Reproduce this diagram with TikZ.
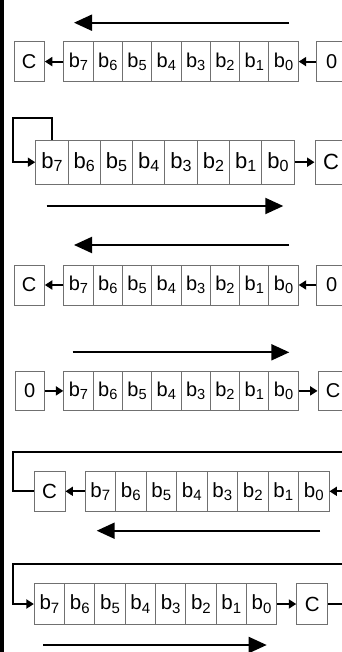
\documentclass[tikz,border=0pt]{standalone}
\usepackage{fontspec}
\setmainfont{Liberation Sans}
\usetikzlibrary{arrows.meta}
\definecolor{boxgray}{RGB}{112,112,112}
% bit label: b with a lowered, smaller index
\newcommand\bitlbl[1]{b\raisebox{-0.16em}{\scalebox{0.73}{#1}}}
\begin{document}
\begin{tikzpicture}[x=1pt,y=-1pt,
  cell/.style n args={2}{draw=boxgray, fill=white, line width=0.9pt,
    inner sep=0pt, minimum width=#1, minimum height=#2},
  small/.style={line width=1.9pt, -{Triangle[length=7.5pt,width=9pt]}},
  loopline/.style={line width=1.9pt, line join=miter, -{Triangle[length=7.5pt,width=9pt]}},
  big/.style={line width=2pt, -{Triangle[length=18pt,width=16pt]}},
  lbl/.style={font=\fontsize{#1}{#1}\selectfont}]
\clip (0,0) rectangle (342,652);
\fill[white] (0,0) rectangle (342,652);
\fill[black] (0,0) rectangle (3.5,652);

% ---- shift left, 0 fed in
\node[cell={30.3pt}{39.3pt}, lbl=20] (r1C) at (29.2,61.6) {C};
\foreach \i [evaluate=\i as \k using int(7-\i)] in {0,...,7}
  \node[cell={29.375pt}{39.3pt}, lbl=20] (r1b\k) at ({63.8+29.3*(\i+0.5)},61.6) {\bitlbl{\k}};
\node[cell={30pt}{39.3pt}, lbl=20] (r1Z) at (331.7,61.6) {0};
\draw[small] (r1b7.west) -- (r1C.east);
\draw[small] (r1Z.west) -- (r1b0.east);
\coordinate (r1s) at (289,22.7);
\coordinate (r1e) at (74,22.7);
\draw[big] (r1s) -- (r1e);

% ---- arithmetic shift right: b7 kept, b0 into carry
\foreach \i [evaluate=\i as \k using int(7-\i)] in {0,...,7}
  \node[cell={32.3pt}{44.3pt}, lbl=22] (r2b\k) at ({35.7+32.3*(\i+0.5)},162.2) {\bitlbl{\k}};
\node[cell={32.3pt}{44.3pt}, lbl=22] (r2C) at (331.15,162.2) {C};
\coordinate (r2T) at (13.3,118.3);
\draw[loopline] (r2b7.north) |- (r2T) |- (r2b7.west);
\draw[small] (r2b0.east) -- (r2C.west);
\coordinate (r2s) at (46.7,206);
\coordinate (r2e) at (283.3,206);
\draw[big] (r2s) -- (r2e);

% ---- shift left, 0 fed in
\node[cell={30.3pt}{40pt}, lbl=20] (r3C) at (29.2,285) {C};
\foreach \i [evaluate=\i as \k using int(7-\i)] in {0,...,7}
  \node[cell={29.375pt}{40pt}, lbl=20] (r3b\k) at ({63.8+29.3*(\i+0.5)},285) {\bitlbl{\k}};
\node[cell={30pt}{40pt}, lbl=20] (r3Z) at (331.7,285) {0};
\draw[small] (r3b7.west) -- (r3C.east);
\draw[small] (r3Z.west) -- (r3b0.east);
\coordinate (r3s) at (289,245);
\coordinate (r3e) at (74,245);
\draw[big] (r3s) -- (r3e);

% ---- logical shift right, 0 fed in
\node[cell={29.3pt}{39.7pt}, lbl=20] (r4Z) at (29.65,390.9) {0};
\foreach \i [evaluate=\i as \k using int(7-\i)] in {0,...,7}
  \node[cell={29.375pt}{39.7pt}, lbl=20] (r4b\k) at ({63.8+29.3*(\i+0.5)},390.9) {\bitlbl{\k}};
\node[cell={30pt}{39.7pt}, lbl=20] (r4C) at (333,390.9) {C};
\draw[small] (r4Z.east) -- (r4b7.west);
\draw[small] (r4b0.east) -- (r4C.west);
\coordinate (r4s) at (72.7,352.3);
\coordinate (r4e) at (289.3,352.3);
\draw[big] (r4s) -- (r4e);

% ---- rotate left through carry
\node[cell={30.7pt}{39.3pt}, lbl=20.5] (r5C) at (49.65,491.3) {C};
\foreach \i [evaluate=\i as \k using int(7-\i)] in {0,...,7}
  \node[cell={30.5pt}{39.3pt}, lbl=20.5] (r5b\k) at ({85+30.5*(\i+0.5)},491.3) {\bitlbl{\k}};
\draw[small] (r5b7.west) -- (r5C.east);
\coordinate (r5L) at (13.3,451.7);
\coordinate (r5R) at (347,451.7);
\draw[loopline] (r5C.west) -| (r5L) -- (r5R) |- (r5b0.east);
\coordinate (r5s) at (320,530.7);
\coordinate (r5e) at (96.7,530.7);
\draw[big] (r5s) -- (r5e);

% ---- rotate right through carry
\foreach \i [evaluate=\i as \k using int(7-\i)] in {0,...,7}
  \node[cell={30.3pt}{41pt}, lbl=20.5] (r6b\k) at ({34.3+30.3*(\i+0.5)},604) {\bitlbl{\k}};
\node[cell={31pt}{41pt}, lbl=20.5] (r6C) at (312.2,604) {C};
\draw[small] (r6b0.east) -- (r6C.west);
\coordinate (r6R) at (347,564);
\coordinate (r6L) at (13.3,564);
\draw[loopline] (r6C.east) -| (r6R) -- (r6L) |- (r6b7.west);
\coordinate (r6s) at (43.3,645);
\coordinate (r6e) at (266.7,645);
\draw[big] (r6s) -- (r6e);
\end{tikzpicture}
\end{document}
